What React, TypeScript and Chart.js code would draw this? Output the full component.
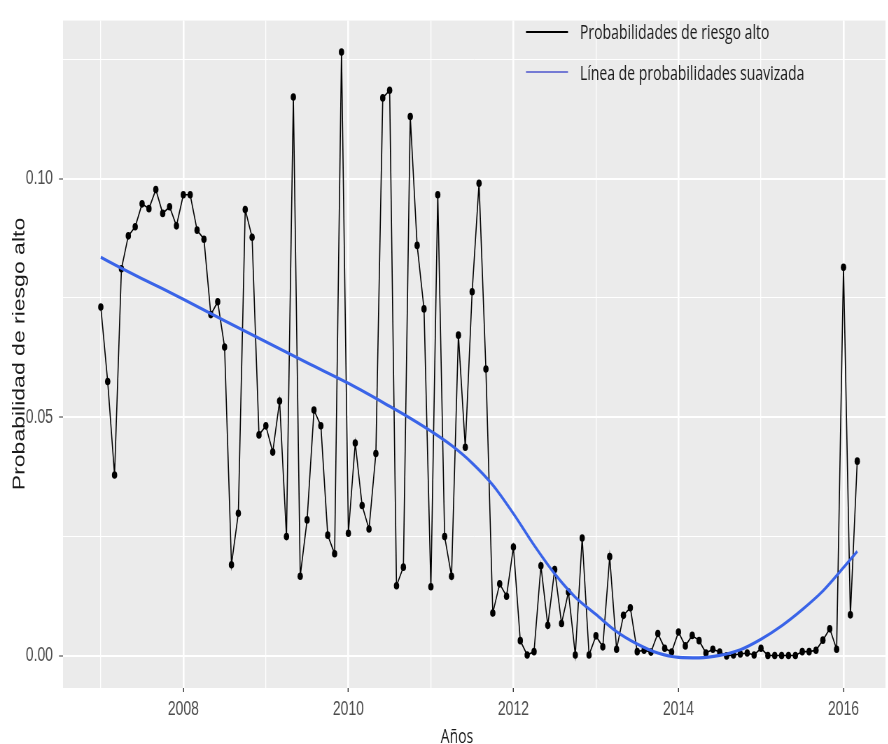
import React, { useEffect, useRef } from "react";
import { Chart, registerables } from "chart.js";

Chart.register(...registerables);

// Monthly series, January 2007 to March 2016
const FIRST_YEAR = 2007;
const riskValues = [
  0.0731, 0.0575, 0.0379, 0.0811, 0.088, 0.0899, 0.0947, 0.0937, 0.0977, 0.0927, 0.0941, 0.0901,
  0.0966, 0.0966, 0.0892, 0.0873, 0.0715, 0.0742, 0.0647, 0.0191, 0.0299, 0.0935, 0.0877, 0.0463,
  0.0482, 0.0427, 0.0534, 0.025, 0.1171, 0.0167, 0.0285, 0.0515, 0.0482, 0.0253, 0.0214, 0.1265,
  0.0257, 0.0446, 0.0315, 0.0266, 0.0424, 0.1169, 0.1185, 0.0147, 0.0186, 0.113, 0.086, 0.0727,
  0.0145, 0.0966, 0.025, 0.0167, 0.0672, 0.0437, 0.0763, 0.099, 0.0601, 0.009, 0.0151, 0.0125,
  0.0228, 0.0032, 0.0002, 0.0009, 0.0189, 0.0064, 0.0181, 0.0068, 0.0134, 0.0002, 0.0247, 0.0002,
  0.0042, 0.0019, 0.0208, 0.0014, 0.0085, 0.0101, 0.0009, 0.0012, 0.0008, 0.0047, 0.0016, 0.0008,
  0.005, 0.0021, 0.0043, 0.0032, 0.0006, 0.0014, 0.0008, 0.0, 0.0002, 0.0004, 0.0006, 0.0002,
  0.0016, 0.0001, 0.0001, 0.0001, 0.0001, 0.0001, 0.0009, 0.0009, 0.0012, 0.0033, 0.0057, 0.0014,
  0.0814, 0.0086, 0.0408,
];

// Smoothed (loess) curve, sampled along the time axis
const smoothYears = [
  2007.0, 2007.25, 2007.5, 2007.75, 2008.0, 2008.5, 2009.0, 2009.5, 2010.0, 2010.5, 2010.75,
  2011.0, 2011.25, 2011.5, 2011.75, 2012.0, 2012.25, 2012.5, 2012.75, 2013.0, 2013.25, 2013.5,
  2013.75, 2014.0, 2014.25, 2014.5, 2014.75, 2015.0, 2015.25, 2015.5, 2015.75, 2016.0, 2016.167,
];
const smoothValues = [
  0.0835, 0.0812, 0.079, 0.0769, 0.0747, 0.0702, 0.0658, 0.0614, 0.0571, 0.0523, 0.0498,
  0.0471, 0.0441, 0.0404, 0.0358, 0.0298, 0.0232, 0.0172, 0.0123, 0.0087, 0.0051, 0.0025,
  0.0006, -0.0003, -0.0004, 0.0001, 0.0013, 0.0035, 0.0063, 0.0097, 0.0136, 0.0185, 0.0219,
];

const xTickYears = [2008, 2010, 2012, 2014, 2016];
const yTickValues = [0, 0.05, 0.1];
const legendLabels = ["Probabilidades de riesgo alto", "Línea de probabilidades suavizada"];
const X_TITLE = "Años";
const Y_TITLE = "Probabilidad de riesgo alto";

const X_MIN = 2006.542;
const X_MAX = 2016.509;
const Y_MIN = -0.00672;
const Y_MAX = 0.1331;

// The figure is drawn wide and squeezed horizontally to its final width
const SQUEEZE = 0.7;
const VIEW_W = 888;
const VIEW_H = 744;
const CANVAS_W = Math.round(VIEW_W / SQUEEZE);
const sx = (v: number) => v / SQUEEZE;

const PANEL_BG = "#EBEBEB";
const TICK_TEXT = "#4D4D4D";
const SANS = '"Liberation Sans", Arial, sans-serif';
const OPEN = '"Open Sans", "Liberation Sans", sans-serif';

const near = (a: number, b: number) => Math.abs(a - b) < 1e-6;
const isMajorX = (v: number) => xTickYears.some((y) => near(y, v));
const isMajorY = (v: number) => yTickValues.some((y) => near(y, v));

const panelPlugin = {
  id: "ggPanel",
  beforeDraw(chart: any) {
    const { ctx, chartArea: a } = chart;
    ctx.save();
    ctx.fillStyle = "#ffffff";
    ctx.fillRect(0, 0, chart.width, chart.height);
    ctx.fillStyle = PANEL_BG;
    ctx.fillRect(a.left, a.top, a.right - a.left, a.bottom - a.top);
    ctx.restore();
  },
  afterDraw(chart: any) {
    const { ctx } = chart;
    ctx.save();

    // y axis title
    ctx.translate(sx(20), 354);
    ctx.rotate(-Math.PI / 2);
    ctx.font = `23px ${SANS}`;
    ctx.fillStyle = "#1a1a1a";
    ctx.textAlign = "center";
    ctx.textBaseline = "middle";
    ctx.fillText(Y_TITLE, 0, 0);
    ctx.setTransform(1, 0, 0, 1, 0, 0);

    // x axis title
    ctx.font = `20px ${OPEN}`;
    ctx.textAlign = "center";
    ctx.textBaseline = "alphabetic";
    ctx.fillText(X_TITLE, sx(457), 743);

    // legend
    const keys = [
      { color: "#000000", width: 2, y: 32, base: 39 },
      { color: "#4c55cc", width: 1.5, y: 72, base: 80 },
    ];
    ctx.textAlign = "left";
    keys.forEach((k, i) => {
      ctx.beginPath();
      ctx.strokeStyle = k.color;
      ctx.lineWidth = k.width;
      ctx.moveTo(sx(526), k.y);
      ctx.lineTo(sx(568), k.y);
      ctx.stroke();
      ctx.fillStyle = "#1a1a1a";
      ctx.font = `20px ${OPEN}`;
      ctx.fillText(legendLabels[i], sx(580), k.base);
    });
    ctx.restore();
  },
};

export default function App() {
  const canvasRef = useRef<HTMLCanvasElement | null>(null);

  useEffect(() => {
    const canvas = canvasRef.current;
    if (!canvas) return;

    const riskPoints = riskValues.map((v, i) => ({ x: FIRST_YEAR + i / 12, y: v }));
    const smoothPoints = smoothYears.map((x, i) => ({ x, y: smoothValues[i] }));

    const chart = new Chart(canvas, {
      type: "line",
      data: {
        datasets: [
          {
            label: legendLabels[1],
            data: smoothPoints,
            borderColor: "#3a64e8",
            borderWidth: 3.2,
            pointRadius: 0,
            cubicInterpolationMode: "monotone",
            fill: false,
          },
          {
            label: legendLabels[0],
            data: riskPoints,
            borderColor: "#000000",
            borderWidth: 1.6,
            pointRadius: 3.8,
            pointBackgroundColor: "#000000",
            pointBorderWidth: 0,
            tension: 0,
            fill: false,
          },
        ],
      },
      options: {
        responsive: false,
        animation: false,
        devicePixelRatio: 1,
        layout: { padding: { top: 12, left: 0, right: 0, bottom: 0 } },
        plugins: {
          legend: { display: false },
          tooltip: { enabled: false },
        },
        scales: {
          x: {
            type: "linear",
            min: X_MIN,
            max: X_MAX,
            afterFit: (scale: any) => {
              scale.height = VIEW_H - 688;
            },
            border: { display: false },
            grid: {
              color: "#ffffff",
              lineWidth: (c: any) => (isMajorX(c.tick?.value) ? 2.6 : 1.3),
              tickColor: (c: any) => (isMajorX(c.tick?.value) ? "#333333" : "rgba(0,0,0,0)"),
              tickLength: 4,
              tickWidth: 1.4,
            },
            ticks: {
              stepSize: 1,
              includeBounds: false,
              autoSkip: false,
              maxRotation: 0,
              padding: 5,
              color: TICK_TEXT,
              font: { family: SANS, size: 20 },
              callback: (v: any) => (isMajorX(Number(v)) ? String(Math.round(Number(v))) : ""),
            },
          },
          y: {
            type: "linear",
            min: Y_MIN,
            max: Y_MAX,
            afterFit: (scale: any) => {
              scale.width = sx(63);
            },
            border: { display: false },
            grid: {
              color: "#ffffff",
              lineWidth: (c: any) => (isMajorY(c.tick?.value) ? 2 : 1),
              tickColor: (c: any) => (isMajorY(c.tick?.value) ? "#333333" : "rgba(0,0,0,0)"),
              tickLength: sx(4),
              tickWidth: 1,
            },
            ticks: {
              stepSize: 0.025,
              includeBounds: false,
              autoSkip: false,
              padding: sx(6),
              color: TICK_TEXT,
              font: { family: SANS, size: 20 },
              callback: (v: any) => (isMajorY(Number(v)) ? Number(v).toFixed(2) : ""),
            },
          },
        },
      },
      plugins: [panelPlugin],
    } as any);

    return () => chart.destroy();
  }, []);

  return (
    <div
      style={{
        position: "fixed",
        left: 0,
        top: 0,
        width: VIEW_W,
        height: VIEW_H,
        overflow: "hidden",
        background: "#ffffff",
      }}
    >
      <canvas
        ref={canvasRef}
        width={CANVAS_W}
        height={VIEW_H}
        style={{
          display: "block",
          transform: `scaleX(${SQUEEZE})`,
          transformOrigin: "0 0",
        }}
      />
    </div>
  );
}
